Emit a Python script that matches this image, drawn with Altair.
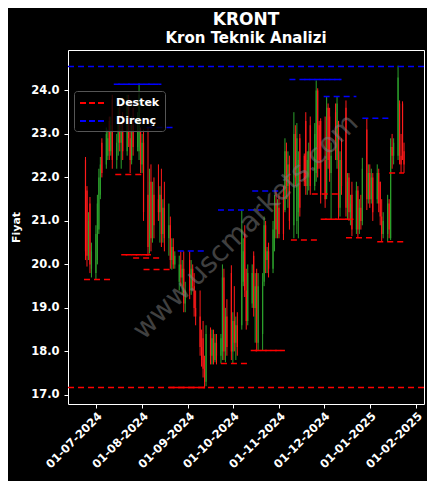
import altair as alt
import pandas as pd

# ---- candle data (business days 2024-06-24 .. 2025-01-24) ----
dates = pd.bdate_range("2024-06-24", "2025-01-24").strftime("%Y-%m-%d").tolist()

open_ = [
    22.4, 21.7, 20.2, 21.4, 19.9,
    19.8, 20.1, 20.8, 21.6, 22.8,
    22.3, 22.5, 23.3, 22.6, 23.8,
    22.4, 22.8, 23.4, 22.8, 23.1,
    22.6, 23.7, 22.9, 22.4, 23.2,
    22.7, 22.6, 23.1, 22.3, 22.8,
    21.6, 20.4, 21.9, 20.6, 21.6,
    21.5, 21.2, 21.6, 20.7, 21.3,
    20.6, 20.9, 20.1, 20.4, 20.0,
    19.6, 20.0, 19.7, 19.9, 19.1,
    20.1, 19.4, 19.9, 19.5, 19.0,
    18.8, 18.1, 18.3, 17.6, 17.3,
    18.4, 17.9, 18.3, 17.8, 18.2,
    17.9, 18.0, 19.7, 18.0, 18.8,
    19.8, 18.0, 18.7, 18.2, 18.6,
    18.6, 19.6, 20.7, 19.4, 18.7,
    19.1, 20.2, 19.0, 19.8, 18.2,
    18.4, 19.6, 20.9, 20.1, 20.3,
    19.9, 20.6, 21.4, 20.8, 21.3,
    21.6, 21.25, 22.6, 21.8, 22.3,
    20.9, 23.0, 21.0, 21.2, 22.9,
    22.5, 23.3, 21.8, 22.0, 23.2,
    21.8, 22.1, 24.0, 23.2, 23.3,
    22.4, 21.6, 23.6, 23.4, 22.1,
    23.5, 22.4, 23.0, 21.3, 22.4,
    23.6, 21.3, 22.0, 21.2, 21.6,
    20.8, 21.7, 20.8, 21.3, 21.0,
    23.1, 21.5, 22.1, 21.5, 22.0,
    21.5, 22.1, 21.9, 21.1, 20.7,
    20.7, 21.4, 20.6, 22.7, 22.5,
    22.5, 23.7, 22.5, 23.7, 22.6,
]
high = [
    22.47, 21.8, 21.2, 21.55, 20.5,
    20.9, 21.6, 22.2, 22.47, 22.9,
    23.15, 23.1, 23.4, 23.4, 23.9,
    23.0, 23.6, 23.7, 23.3, 23.5,
    23.9, 23.9, 23.2, 23.4, 23.6,
    23.5, 24.16, 23.15, 23.0, 23.1,
    23.15, 22.2, 22.3, 21.9, 22.0,
    22.3, 21.8, 22.2, 21.5, 21.9,
    21.4, 21.1, 20.6, 20.6, 20.3,
    20.2, 20.3, 20.1, 20.3, 19.6,
    20.3, 20.1, 20.0, 19.8, 19.4,
    19.4, 18.5, 18.7, 17.9, 18.6,
    18.55, 18.5, 18.5, 18.4, 18.4,
    18.4, 20.0, 19.9, 19.0, 19.2,
    19.98, 18.9, 19.5, 18.8, 18.9,
    21.25, 20.6, 20.9, 19.9, 20.0,
    20.0, 20.3, 19.8, 19.9, 19.8,
    19.8, 21.1, 21.0, 20.4, 20.5,
    21.0, 21.6, 21.69, 21.5, 21.6,
    21.8, 22.9, 22.8, 22.6, 22.5,
    23.5, 23.2, 23.25, 22.6, 23.0,
    22.55, 23.5, 22.6, 22.8, 23.4,
    23.25, 24.23, 24.05, 23.3, 23.36,
    23.4, 23.85, 23.7, 23.6, 22.8,
    23.7, 23.86, 23.3, 22.6, 22.9,
    23.77, 22.1, 22.1, 21.6, 21.9,
    21.9, 21.8, 21.5, 21.6, 22.45,
    23.36, 22.3, 22.3, 22.2, 22.1,
    22.3, 22.2, 21.9, 21.5, 21.2,
    21.6, 21.5, 22.9, 23.0, 22.9,
    24.57, 23.77, 23.0, 23.75, 22.8,
]
low = [
    20.1, 19.95, 20.1, 19.8, 19.7,
    19.65, 20.0, 20.7, 21.5, 22.0,
    22.2, 22.4, 22.4, 22.5, 22.2,
    22.2, 22.5, 22.6, 22.2, 22.4,
    22.5, 22.7, 22.1, 22.3, 22.5,
    22.6, 22.4, 22.1, 22.1, 21.0,
    20.2, 20.25, 20.3, 20.5, 20.6,
    21.0, 20.5, 20.4, 20.5, 20.3,
    20.2, 19.9, 19.88, 19.9, 19.9,
    19.4, 19.5, 19.3, 18.9, 18.9,
    19.2, 19.3, 19.4, 18.8, 18.6,
    17.9, 17.65, 17.4, 17.15, 17.2,
    17.7, 17.7, 17.7, 17.75, 17.7,
    17.72, 17.8, 17.8, 17.75, 17.9,
    17.8, 17.72, 18.0, 17.8, 17.9,
    18.5, 19.5, 19.25, 18.5, 18.6,
    19.0, 18.8, 18.2, 18.0, 18.02,
    18.02, 19.5, 19.8, 19.8, 19.7,
    19.8, 20.3, 20.6, 20.6, 20.6,
    20.56, 21.2, 21.5, 21.3, 20.8,
    20.6, 21.8, 20.7, 20.6, 21.1,
    21.8, 21.6, 21.6, 21.7, 21.6,
    21.7, 21.9, 22.0, 22.2, 21.4,
    21.3, 21.5, 22.2, 21.9, 21.04,
    22.4, 22.2, 21.04, 21.1, 21.6,
    21.1, 21.04, 21.0, 20.9, 20.65,
    20.7, 20.61, 20.7, 20.8, 20.9,
    21.25, 21.4, 21.3, 21.4, 21.0,
    21.4, 21.2, 20.9, 20.52, 20.6,
    20.52, 20.6, 20.56, 22.2, 22.3,
    22.4, 22.3, 22.1, 22.4, 22.1,
]
close = [
    20.3, 20.2, 21.0, 20.0, 20.3,
    20.7, 21.4, 22.0, 22.3, 22.1,
    23.0, 22.9, 22.6, 23.2, 22.4,
    22.8, 23.4, 22.8, 23.1, 22.6,
    23.7, 22.9, 22.4, 23.2, 22.7,
    23.3, 23.9, 22.3, 22.8, 21.2,
    20.4, 21.9, 20.6, 21.6, 20.9,
    21.2, 21.6, 20.7, 21.3, 20.6,
    20.9, 20.1, 20.4, 20.0, 20.2,
    20.0, 19.7, 19.9, 19.1, 19.4,
    19.4, 19.9, 19.5, 19.0, 18.8,
    18.1, 17.8, 17.6, 17.3, 18.4,
    17.9, 18.3, 17.8, 18.2, 17.9,
    18.3, 19.7, 18.0, 18.8, 18.1,
    18.0, 18.7, 18.2, 18.6, 18.1,
    20.8, 20.3, 19.4, 18.7, 19.8,
    19.8, 19.0, 19.5, 18.2, 19.5,
    19.6, 20.9, 20.1, 20.3, 19.9,
    20.8, 21.4, 20.8, 21.3, 20.7,
    20.7, 22.6, 21.8, 22.3, 21.0,
    23.0, 22.0, 22.9, 22.4, 21.3,
    21.9, 21.8, 22.4, 22.6, 21.8,
    23.0, 24.0, 22.2, 22.4, 21.6,
    21.5, 23.6, 22.4, 22.1, 22.5,
    22.6, 23.7, 21.3, 22.4, 21.8,
    21.3, 21.9, 21.2, 21.4, 20.8,
    21.7, 20.8, 21.3, 21.0, 22.2,
    21.5, 22.1, 21.5, 22.0, 21.2,
    22.1, 21.4, 21.1, 20.7, 21.0,
    21.4, 20.8, 22.7, 22.5, 22.8,
    24.3, 22.5, 22.3, 22.6, 22.3,
]

# ---- support / resistance segments ----
seg_start = [
    "2024-06-23", "2024-07-14", "2024-07-18", "2024-07-21", "2024-07-26",
    "2024-08-02", "2024-08-19", "2024-08-22", "2024-09-23", "2024-10-13",
    "2024-10-16", "2024-11-09", "2024-11-23", "2024-11-29", "2024-12-02",
    "2024-12-16", "2025-01-06", "2025-01-14",
    "2024-07-13", "2024-07-16", "2024-08-04", "2024-08-25", "2024-09-21",
    "2024-10-14", "2024-11-08", "2024-11-18", "2024-12-01", "2024-12-27",
]
seg_end = [
    "2024-07-11", "2024-08-02", "2024-08-05", "2024-08-07", "2024-08-14",
    "2024-08-20", "2024-09-12", "2024-09-12", "2024-10-12", "2024-11-05",
    "2024-11-05", "2024-11-28", "2024-12-12", "2024-12-21", "2024-12-19",
    "2025-01-05", "2025-01-25", "2025-01-24",
    "2024-08-12", "2024-08-14", "2024-08-22", "2024-09-13", "2024-10-24",
    "2024-11-02", "2024-12-13", "2024-12-13", "2024-12-23", "2025-01-16",
]
seg_value = [
    19.65, 22.07, 20.22, 20.22, 20.15,
    19.88, 17.17, 17.17, 17.72, 18.02,
    18.02, 20.56, 21.62, 21.04, 21.04,
    20.61, 20.52, 22.10,
    24.14, 24.14, 23.15, 20.31, 21.25,
    21.69, 24.25, 24.25, 23.86, 23.36,
]
seg_type = ["Destek"] * 18 + ["Direnç"] * 10

level_value = [17.17, 24.55]
level_type = ["Destek", "Direnç"]

watermark = ["www.uscmarkets.com"]
month_ticks = [(2024, 7), (2024, 8), (2024, 9), (2024, 10), (2024, 11),
               (2024, 12), (2025, 1), (2025, 2)]
y_ticks = [17, 18, 19, 20, 21, 22, 23, 24]

candles = pd.DataFrame({"date": dates, "open": open_, "high": high,
                        "low": low, "close": close})
segs = pd.DataFrame({"start": seg_start, "end": seg_end,
                     "value": seg_value, "type": seg_type})
levels = pd.DataFrame({"value": level_value, "type": level_type})
wm = pd.DataFrame({"t": watermark})

FONT = "DejaVu Sans"
UP = "#2ca02c"
DOWN = "#ff1a1a"

x_scale = alt.Scale(
    type="utc",
    domain=[alt.DateTime(year=2024, month=6, date=12, hours=6, utc=True),
            alt.DateTime(year=2025, month=2, date=6, hours=10, utc=True)],
)
y_scale = alt.Scale(domain=[16.79, 24.93], nice=False, zero=False)

x_axis = alt.Axis(
    values=[alt.DateTime(year=y, month=m, date=1, utc=True) for y, m in month_ticks],
    format="%d-%m-%Y", labelAngle=315, labelAlign="right", labelBaseline="top",
    labelPadding=2, labelOverlap=False, title=None,
)
y_axis = alt.Axis(values=y_ticks, format=".1f", title="Fiyat", labelPadding=5,
                  titlePadding=9)

color_scale = alt.Scale(domain=["Destek", "Direnç"], range=["red", "blue"])
legend = alt.Legend(
    title=None, orient="none", legendX=6, legendY=41,
    symbolType="M-1,0H3.5", symbolSize=144, symbolStrokeWidth=2,
    symbolDash=[6, 3], labelColor="white", labelFont=FONT, labelFontSize=11,
    labelFontWeight="bold", fillColor="rgba(0,0,0,0.8)", strokeColor="#555555",
    cornerRadius=3, padding=5, rowPadding=6, labelOffset=23,
)

updown = alt.condition(alt.datum.close >= alt.datum.open, alt.value(UP), alt.value(DOWN))

wicks = alt.Chart(candles).mark_rule(strokeWidth=1).encode(
    x=alt.X("date:T", scale=x_scale, axis=x_axis),
    y=alt.Y("low:Q", scale=y_scale, axis=y_axis),
    y2="high:Q",
    color=updown,
)
bodies = alt.Chart(candles).mark_rule(strokeWidth=1.2).encode(
    x="date:T", y="open:Q", y2="close:Q", color=updown,
)
seg_layer = alt.Chart(segs).mark_rule(strokeWidth=1.5, strokeDash=[6, 4]).encode(
    x="start:T", x2="end:T", y="value:Q",
    color=alt.Color("type:N", scale=color_scale, legend=legend),
)
level_layer = alt.Chart(levels).mark_rule(strokeWidth=1.5, strokeDash=[6, 4]).encode(
    y="value:Q",
    color=alt.Color("type:N", scale=color_scale, legend=legend),
)
wm_layer = alt.Chart(wm).mark_text(
    angle=315, fontSize=28, font=FONT, color="gray", opacity=0.5,
    align="center", baseline="middle",
).encode(text="t:N", x=alt.value(178), y=alt.value(177))

chart = alt.layer(wicks, bodies, seg_layer, level_layer, wm_layer).properties(
    width=356, height=354,
    autosize=alt.AutoSizeParams(type="none"),
    padding={"left": 60, "top": 42, "right": 3, "bottom": 77},
    background="black",
    title=alt.TitleParams(
        text="KRONT", subtitle="Kron Teknik Analizi", fontSize=17,
        subtitleFontSize=15, fontWeight="bold", subtitleFontWeight="bold",
        color="white", subtitleColor="white", font=FONT, subtitleFont=FONT,
        anchor="middle", offset=3, subtitlePadding=2,
    ),
).configure_view(
    stroke="white", strokeWidth=1, fill="black",
).configure_axis(
    grid=False, domain=False, tickColor="white", tickSize=4, tickWidth=1,
    labelColor="white", labelFont=FONT, labelFontSize=11.5, labelFontWeight="bold",
    titleColor="white", titleFont=FONT, titleFontSize=11, titleFontWeight="bold",
)

chart.save("out.html", embed_options={"renderer": "svg", "actions": False})
